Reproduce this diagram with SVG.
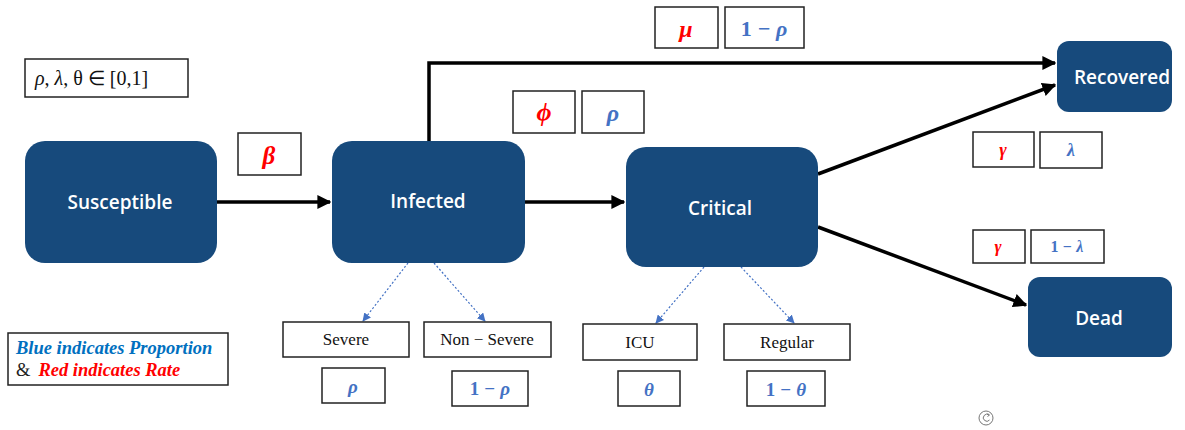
<svg xmlns="http://www.w3.org/2000/svg" width="1185" height="430" viewBox="0 0 1185 430">
  <defs>
    <style>
      .node { fill: #174a7c; }
      .ntext { fill: #ffffff; font-family: "Open Sans", "Noto Sans", sans-serif; font-weight: 600; font-size: 19px; text-anchor: middle; dominant-baseline: central; }
      .box { fill: #ffffff; stroke: #222222; stroke-width: 1.5; }
      .math { font-family: "Liberation Serif", "DejaVu Serif", serif; font-weight: bold; font-style: italic; text-anchor: middle; dominant-baseline: central; }
      .up { font-style: normal; }
      .red { fill: #ff0000; }
      .blue { fill: #4472c4; }
      .lbl { font-family: "Liberation Serif", serif; font-size: 17px; fill: #111111; text-anchor: middle; dominant-baseline: central; }
      .flow { stroke: #000000; stroke-width: 3.5; fill: none; }
      .split { stroke: #4472c4; stroke-width: 1.2; stroke-dasharray: 2 2; fill: none; }
    </style>
    <marker id="arrowBlack" viewBox="0 0 10 10" refX="9" refY="5" markerWidth="4" markerHeight="4" orient="auto" markerUnits="strokeWidth">
      <path d="M0,0 L10,5 L0,10 z" fill="#000000"/>
    </marker>
    <marker id="arrowBlue" viewBox="0 0 10 10" refX="9" refY="5" markerWidth="7" markerHeight="7" orient="auto" markerUnits="strokeWidth">
      <path d="M0,0 L10,5 L0,10 z" fill="#4472c4"/>
    </marker>
  </defs>

  <rect width="1185" height="430" fill="#ffffff"/>

  <!-- connectors -->
  <g id="connectors">
    <line class="flow" x1="217" y1="202" x2="330" y2="202" marker-end="url(#arrowBlack)"/>
    <line class="flow" x1="525" y1="202" x2="624" y2="202" marker-end="url(#arrowBlack)"/>
    <polyline class="flow" points="429,141 429,63 1055,63" marker-end="url(#arrowBlack)"/>
    <line class="flow" x1="818" y1="174" x2="1055" y2="85" marker-end="url(#arrowBlack)"/>
    <line class="flow" x1="818" y1="227" x2="1026" y2="305" marker-end="url(#arrowBlack)"/>
    <line class="split" x1="408" y1="263" x2="363" y2="321" marker-end="url(#arrowBlue)"/>
    <line class="split" x1="434" y1="263" x2="485" y2="321" marker-end="url(#arrowBlue)"/>
    <line class="split" x1="704" y1="267" x2="656" y2="323" marker-end="url(#arrowBlue)"/>
    <line class="split" x1="741" y1="267" x2="794" y2="323" marker-end="url(#arrowBlue)"/>
  </g>

  <!-- compartments -->
  <g id="susceptible">
    <rect class="node" x="25" y="141" width="192" height="122" rx="20"/>
    <text class="ntext" x="120" y="202">Susceptible</text>
  </g>
  <g id="infected">
    <rect class="node" x="332" y="141" width="193" height="122" rx="20"/>
    <text class="ntext" x="428" y="201">Infected</text>
  </g>
  <g id="critical">
    <rect class="node" x="626" y="147" width="192" height="120" rx="20"/>
    <text class="ntext" x="720" y="208">Critical</text>
  </g>
  <g id="recovered">
    <rect class="node" x="1057" y="41" width="115" height="71" rx="12"/>
    <text class="ntext" x="1122" y="77" font-size="18">Recovered</text>
  </g>
  <g id="dead">
    <rect class="node" x="1028" y="277" width="144" height="80" rx="12"/>
    <text class="ntext" x="1099" y="318">Dead</text>
  </g>

  <!-- parameter domain -->
  <g id="domain">
    <rect class="box" x="25" y="59" width="163" height="38"/>
    <text x="35" y="78" font-family="Liberation Serif, serif" font-size="20" fill="#111111" dominant-baseline="central"><tspan font-style="italic">ρ</tspan>, <tspan font-style="italic">λ</tspan>, θ ∈ [0,1]</text>
  </g>

  <!-- rates and proportions on transitions -->
  <g id="beta">
    <rect class="box" x="238" y="133" width="63" height="42"/>
    <text class="math red" x="269" y="155" font-size="25">β</text>
  </g>
  <g id="mu">
    <rect class="box" x="655" y="7" width="63" height="41"/>
    <text class="math red" x="686" y="29" font-size="24">μ</text>
  </g>
  <g id="one-minus-rho-top">
    <rect class="box" x="725" y="7" width="79" height="41"/>
    <text class="math blue" x="764" y="28" font-size="22"><tspan class="up">1</tspan> − ρ</text>
  </g>
  <g id="phi">
    <rect class="box" x="513" y="91" width="62" height="42"/>
    <text class="math red" x="544" y="112" font-size="26">ϕ</text>
  </g>
  <g id="rho-top">
    <rect class="box" x="582" y="91" width="62" height="42"/>
    <text class="math blue" x="613" y="113" font-size="24">ρ</text>
  </g>
  <g id="gamma-rec">
    <rect class="box" x="973" y="132" width="61" height="35"/>
    <text class="math red" x="1003" y="150" font-size="18">γ</text>
  </g>
  <g id="lambda">
    <rect class="box" x="1040" y="132" width="62" height="36"/>
    <text class="math blue" x="1071" y="150" font-size="18">λ</text>
  </g>
  <g id="gamma-dead">
    <rect class="box" x="973" y="230" width="52" height="33"/>
    <text class="math red" x="998" y="246" font-size="17">γ</text>
  </g>
  <g id="one-minus-lambda">
    <rect class="box" x="1031" y="230" width="73" height="33"/>
    <text class="math blue" x="1067" y="246" font-size="16"><tspan class="up">1</tspan> − λ</text>
  </g>

  <!-- sub-categories -->
  <g id="severe">
    <rect class="box" x="283" y="322" width="126" height="35"/>
    <text class="lbl" x="346" y="339">Severe</text>
  </g>
  <g id="non-severe">
    <rect class="box" x="424" y="322" width="127" height="35"/>
    <text class="lbl" x="487" y="339">Non − Severe</text>
  </g>
  <g id="rho-severe">
    <rect class="box" x="322" y="368" width="63" height="35"/>
    <text class="math blue" x="353" y="386" font-size="19">ρ</text>
  </g>
  <g id="one-minus-rho-nonsevere">
    <rect class="box" x="452" y="371" width="76" height="35"/>
    <text class="math blue" x="490" y="388" font-size="19"><tspan class="up">1</tspan> − ρ</text>
  </g>
  <g id="icu">
    <rect class="box" x="583" y="324" width="114" height="36"/>
    <text class="lbl" x="640" y="342">ICU</text>
  </g>
  <g id="regular">
    <rect class="box" x="724" y="324" width="126" height="36"/>
    <text class="lbl" x="787" y="342">Regular</text>
  </g>
  <g id="theta">
    <rect class="box" x="618" y="371" width="62" height="35"/>
    <text class="math blue" x="649" y="389" font-size="19">θ</text>
  </g>
  <g id="one-minus-theta">
    <rect class="box" x="747" y="371" width="78" height="35"/>
    <text class="math blue" x="786" y="389" font-size="19"><tspan class="up">1</tspan> − θ</text>
  </g>

  <!-- legend -->
  <g id="legend">
    <rect class="box" x="8" y="333" width="220" height="52"/>
    <text x="16" y="348" font-family="Liberation Serif, serif" font-size="18.5" font-weight="bold" font-style="italic" fill="#0070c0" dominant-baseline="central">Blue indicates Proportion</text>
    <text x="16" y="370" font-family="Liberation Serif, serif" font-size="18.5" dominant-baseline="central"><tspan fill="#222222">&amp;</tspan><tspan fill="#ff0000" font-weight="bold" font-style="italic" dx="8">Red indicates Rate</tspan></text>
  </g>

  <!-- small refresh glyph -->
  <g id="refresh-icon" fill="none" stroke="#777777" stroke-width="1">
    <circle cx="986" cy="418" r="7"/>
    <path d="M989,415 A3.5,3.5 0 1 0 989.5,420"/>
    <path d="M987.5,413.5 L989.5,415 L987.5,416.5"/>
  </g>
</svg>
